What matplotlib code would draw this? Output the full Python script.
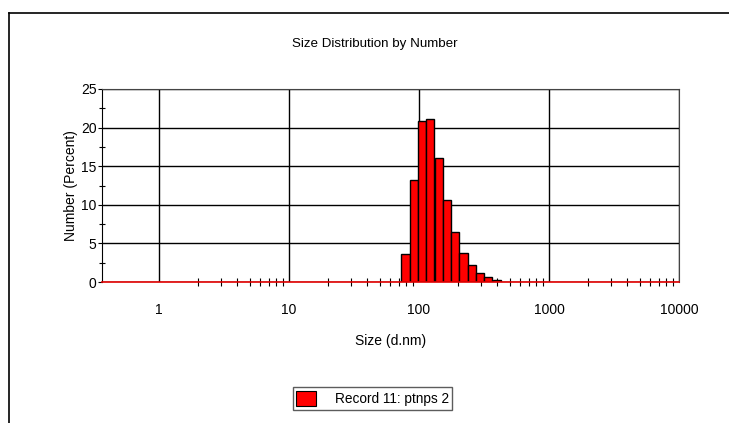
import numpy as np
import matplotlib.pyplot as plt
from matplotlib.lines import Line2D
from matplotlib.ticker import FixedLocator, NullFormatter, FixedFormatter
from matplotlib.patches import Patch

# Zetasizer size classes (d.nm) and number %
sizes = [78.82, 91.28, 105.7, 122.4, 141.8, 164.2, 190.1, 220.2, 255.0, 295.3, 342.0, 396.1]
number = [3.6, 13.2, 20.9, 21.1, 16.0, 10.6, 6.5, 3.8, 2.2, 1.2, 0.65, 0.3]
xticks = [1, 10, 100, 1000, 10000]
xticklabels = ['1', '10', '100', '1000', '10000']
yticks = [0, 5, 10, 15, 20, 25]
legend_label = 'Record 11: ptnps 2'

plt.rcParams['font.family'] = ['Liberation Sans', 'DejaVu Sans']

fig = plt.figure(figsize=(7.29, 4.23), dpi=100)
ax = fig.add_axes([0.140, 0.3333, 0.7914, 0.4563])

# bin ratio for the log-spaced classes
r = 10 ** (np.log10(10000 / 0.4) / 70)
sizes = np.array(sizes)
left = sizes / np.sqrt(r)
widths = sizes * np.sqrt(r) - left
ax.bar(left, number, width=widths, align='edge', color='#ff0000',
       edgecolor='black', linewidth=1, zorder=3, label=legend_label)

ax.set_xscale('log')
ax.set_xlim(0.366, 10000)
ax.set_ylim(0, 25)

ax.xaxis.set_major_locator(FixedLocator(xticks))
ax.xaxis.set_major_formatter(FixedFormatter(xticklabels))
minors = [m * 10 ** e for e in range(0, 4) for m in range(2, 10)]
ax.xaxis.set_minor_locator(FixedLocator(minors))
ax.xaxis.set_minor_formatter(NullFormatter())
ax.set_yticks(yticks)
ax.yaxis.set_minor_locator(FixedLocator([2.5, 7.5, 12.5, 17.5, 22.5]))

ax.grid(True, which='major', color='black', linewidth=1, zorder=1)
ax.tick_params(axis='x', which='major', length=0, pad=15, labelsize=10)
ax.tick_params(axis='x', which='minor', direction='inout', length=6, width=0.8, color='black')
ax.tick_params(axis='y', which='major', direction='out', length=3, labelsize=10, pad=1)
ax.tick_params(axis='y', which='minor', direction='inout', length=5, width=0.8)

for s in ['top', 'right']:
    ax.spines[s].set_color('#444444')
ax.spines['left'].set_color('black')
ax.spines['bottom'].set_color('#e00000')
ax.spines['bottom'].set_linewidth(1.2)
ax.spines['bottom'].set_zorder(4)

ax.set_xlabel('Size (d.nm)', fontsize=10, labelpad=12)
ax.set_ylabel('Number (Percent)', fontsize=10, labelpad=2)
fig.text(0.514, 0.897, 'Size Distribution by Number', ha='center', va='center', fontsize=9.6)

handle = Patch(facecolor='#ff0000', edgecolor='black', linewidth=0.8)
fig.legend([handle], [legend_label], loc='center', bbox_to_anchor=(0.511, 0.058),
           frameon=True, fancybox=False, edgecolor='#333333', fontsize=9.8,
           handlelength=1.4, handleheight=1.4, borderpad=0.25, handletextpad=1.4)

# outer frame lines
fig.add_artist(Line2D([9 / 729, 1], [1 - 13 / 423, 1 - 13 / 423], color='black', linewidth=1.2))
fig.add_artist(Line2D([9 / 729, 9 / 729], [0, 1 - 13 / 423], color='black', linewidth=1.2))

fig.savefig('out.png', dpi=100)
